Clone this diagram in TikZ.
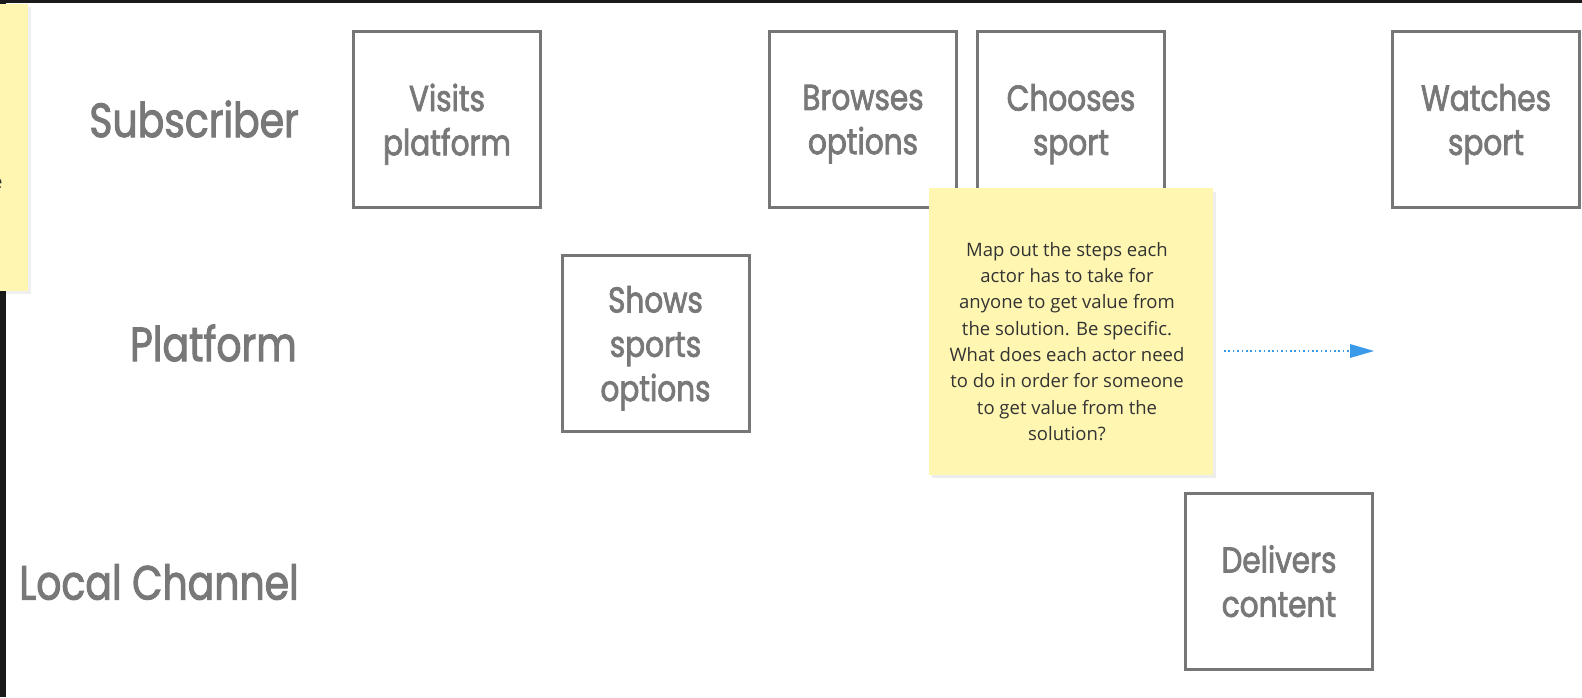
\documentclass[tikz,border=0pt]{standalone}
\usepackage{fontspec}
\usetikzlibrary{arrows.meta}
\newfontfamily\labelfont{Poppins}[FakeStretch=0.82, FakeBold=2.0]
\newfontfamily\notefont{Open Sans}
\definecolor{framegray}{HTML}{1A1A1A}
\definecolor{boxgray}{HTML}{767676}
\definecolor{labelgray}{HTML}{787878}
\definecolor{stickyyellow}{HTML}{FFF7B1}
\definecolor{notetext}{HTML}{333333}
\definecolor{arrowblue}{HTML}{3A9AEA}
% last line of a step text: its descenders do not count for centring
\newcommand\flatline[1]{\raisebox{0pt}[\height][0pt]{#1}}
\tikzset{
  stepbox/.style={draw=boxgray, line width=3pt, fill=white,
    minimum width=187pt, minimum height=176pt, inner sep=0pt,
    align=center, text=labelgray,
    font={\labelfont\fontsize{36}{44.3}\selectfont}},
  lanelabel/.style={anchor=east, inner sep=0pt, text=labelgray,
    font={\labelfont\fontsize{48}{56}\selectfont}},
  sticky/.style={fill=stickyyellow, draw=none},
  notetextstyle/.style={anchor=north, inner sep=0pt, align=center, text=notetext,
    font={\notefont\fontsize{18.5}{26.3}\selectfont}},
  flowarrow/.style={draw=arrowblue, line width=1.6pt,
    dash pattern=on 1.6pt off 2.8pt,
    -{Triangle[length=24pt, width=14pt, fill=arrowblue, line width=0pt]}}
}
\begin{document}
\begin{tikzpicture}[x=1pt, y=-1pt]
\useasboundingbox (0,0) rectangle (1582,697);
\fill[white] (0,0) rectangle (1582,697);

% window frame edges
\fill[framegray] (0,0) rectangle (1582,2.5);
\fill[framegray] (0,0) rectangle (6,697);

% sticky note cut by the left edge
\fill[black, opacity=0.06] (0,7) rectangle (31,294);
\fill[sticky] (0,4) rectangle (28,291);
\begin{scope}
  \clip (0,4) rectangle (28,291);
  \node[anchor=base east, inner sep=0pt, text=notetext,
        font={\notefont\fontsize{18.5}{26.3}\selectfont}] (edgetext) at (2.6,188) {e};
\end{scope}

% lane labels
\node[lanelabel] (subscriber) at (299,119) {Subscriber};
\node[lanelabel] (platform) at (297,343) {Platform};
\node[lanelabel] (localchannel) at (299,582) {Local Channel};

% steps
\node[stepbox] (visits) at (447,119.5) {Visits\\\flatline{platform}};
\node[stepbox] (browses) at (863,119.5) {Browses\\\flatline{options}};
\node[stepbox] (chooses) at (1071,119.5) {Chooses\\\flatline{sport}};
\node[stepbox] (watches) at (1486,119.5) {Watches\\\flatline{sport}};
\node[stepbox] (shows) at (655.5,343.5) {Shows\\sports\\\flatline{options}};
\node[stepbox] (delivers) at (1279,581) {Delivers\\\flatline{content}};

% instruction sticky note
\fill[black, opacity=0.07] (932,192) rectangle (1216,478);
\fill[sticky] (929,188) rectangle (1213,475);
\node[notetextstyle] (instructions) at (1067,242)
  {Map out the steps each\\actor has to take for\\anyone to get value from\\the solution. Be specific.\\What does each actor need\\to do in order for someone\\to get value from the\\solution?};

% dotted pointer
\coordinate (pointerstart) at (1224,351);
\coordinate (pointerend) at (1374,351);
\draw[flowarrow] (pointerstart) -- (pointerend);
\end{tikzpicture}
\end{document}
